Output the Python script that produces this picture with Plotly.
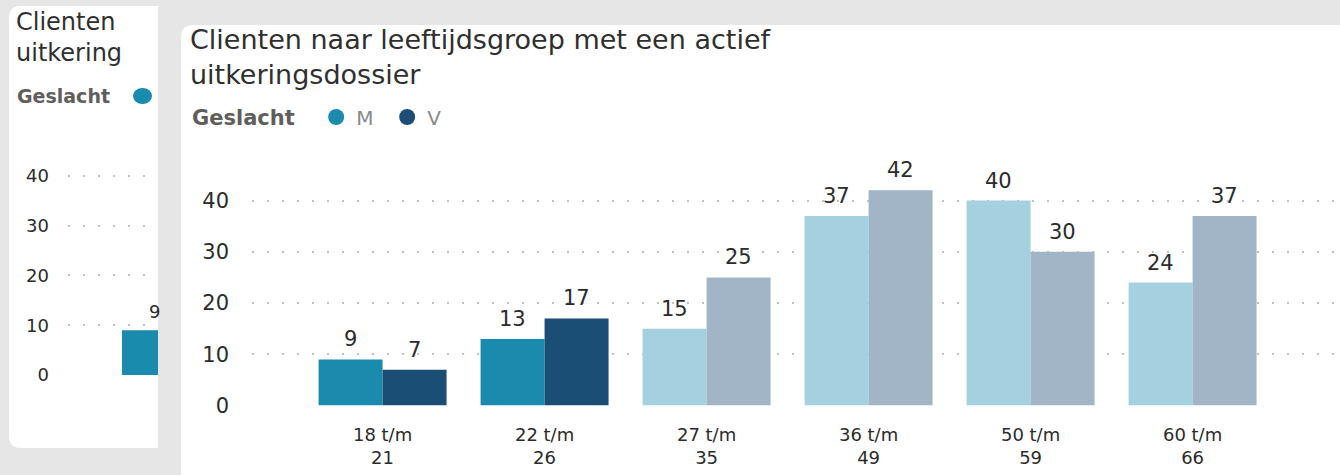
import plotly.graph_objects as go

# ---------------- data ----------------
age_groups = ["18 t/m 21", "22 t/m 26", "27 t/m 35", "36 t/m 49", "50 t/m 59", "60 t/m 66"]
tick_labels = ["18 t/m<br>21", "22 t/m<br>26", "27 t/m<br>35", "36 t/m<br>49", "50 t/m<br>59", "60 t/m<br>66"]
male = [9, 13, 15, 37, 40, 24]
female = [7, 17, 25, 42, 30, 37]
highlighted = [True, True, False, False, False, False]
y_ticks = [0, 10, 20, 30, 40]
series_names = ["M", "V"]

# ---------------- style ----------------
W, H = 1340, 475
FONT = "DejaVu Sans"
BG = "#e6e6e6"
M_COLOR, V_COLOR = "#1a8aad", "#1b4e74"
M_FADED, V_FADED = "#a4d0df", "#a2b5c7"
TXT = "#2b2b2b"
GRID = "#c2c2c2"
BARGAP = 0.21
HALF = (1 - BARGAP) / 4  # offset of each bar centre from the category centre


def px(x):
    return x / W


def py(y):
    return 1 - y / H


idx = list(range(len(age_groups)))
m_colors = [M_COLOR if h else M_FADED for h in highlighted]
v_colors = [V_COLOR if h else V_FADED for h in highlighted]

fig = go.Figure()

# main chart (x / y) and the partially visible background chart (x2 / y2)
for xa, ya in (("x", "y"), ("x2", "y2")):
    fig.add_trace(go.Bar(x=idx, y=male, name="M", marker=dict(color=m_colors, line=dict(width=0)),
                         customdata=age_groups, hovertemplate="%{customdata}<br>M: %{y}<extra></extra>",
                         showlegend=False, xaxis=xa, yaxis=ya))
    fig.add_trace(go.Bar(x=idx, y=female, name="V", marker=dict(color=v_colors, line=dict(width=0)),
                         customdata=age_groups, hovertemplate="%{customdata}<br>V: %{y}<extra></extra>",
                         showlegend=False, xaxis=xa, yaxis=ya))

# legend entries (circles)
for name, col in zip(series_names, [M_COLOR, V_COLOR]):
    fig.add_trace(go.Scatter(x=[None], y=[None], mode="markers", name=name,
                             marker=dict(symbol="circle", size=16, color=col),
                             showlegend=True, xaxis="x", yaxis="y"))

# data labels
annotations = []
for i, (m, v) in enumerate(zip(male, female)):
    for val, off in ((m, -HALF), (v, HALF)):
        annotations.append(dict(x=i + off, y=val, xref="x", yref="y", text=str(val), showarrow=False,
                                xanchor="center", yanchor="bottom", yshift=6,
                                font=dict(family=FONT, size=21, color=TXT)))
annotations.append(dict(x=0 - HALF, y=male[0], xref="x2", yref="y2", text=str(male[0]), showarrow=False,
                        xanchor="center", yanchor="bottom", yshift=6,
                        font=dict(family=FONT, size=18, color=TXT)))

# titles and background-card legend label
annotations += [
    dict(x=px(188), y=py(22), xref="paper", yref="paper", xanchor="left", yanchor="top", align="left",
         text="Clienten naar leeftijdsgroep met een actief<br>uitkeringsdossier", showarrow=False,
         font=dict(family=FONT, size=27, color="#2f2f2f")),
    dict(x=px(14), y=py(6), xref="paper", yref="paper", xanchor="left", yanchor="top", align="left",
         text="Clienten<br>uitkering", showarrow=False, font=dict(family=FONT, size=24, color="#2f2f2f")),
    dict(x=px(15), y=py(96), xref="paper", yref="paper", xanchor="left", yanchor="middle",
         text="<b>Geslacht</b>", showarrow=False, font=dict(family=FONT, size=19, color="#605e5c")),
]


def rounded_path(x0, y0, x1, y1, r):
    # pixel coordinates -> paper path with rounded left corners
    X, Y = px, py
    rx, ry = r / W, r / H
    p = f"M {X(x0)+rx},{Y(y0)} L {X(x1)},{Y(y0)} L {X(x1)},{Y(y1)} L {X(x0)+rx},{Y(y1)} "
    p += f"Q {X(x0)},{Y(y1)} {X(x0)},{Y(y1)+ry} L {X(x0)},{Y(y0)-ry} Q {X(x0)},{Y(y0)} {X(x0)+rx},{Y(y0)} Z"
    return p


shapes = [
    dict(type="path", xref="paper", yref="paper", path=rounded_path(9, 6, 158, 448, 12),
         fillcolor="white", line=dict(width=0), layer="below"),
    dict(type="path", xref="paper", yref="paper", path=rounded_path(181, 25, 1345, 490, 12),
         fillcolor="white", line=dict(width=0), layer="below"),
    dict(type="circle", xref="paper", yref="paper", x0=px(133), x1=px(152), y0=py(88), y1=py(104),
         fillcolor=M_COLOR, line=dict(width=0), layer="below"),
]

fig.update_layout(
    width=W, height=H, autosize=False,
    margin=dict(l=0, r=0, t=0, b=0, autoexpand=False),
    paper_bgcolor=BG,
    plot_bgcolor="rgba(0,0,0,0)",
    barmode="group", bargap=BARGAP, bargroupgap=0,
    font=dict(family=FONT, color=TXT),
    showlegend=True,
    legend=dict(orientation="h", x=px(190), y=py(117), xanchor="left", yanchor="middle",
                bgcolor="rgba(0,0,0,0)", itemsizing="trace", itemclick=False,
                entrywidth=26, entrywidthmode="pixels",
                font=dict(family=FONT, size=20, color="#8a8a8a"),
                title=dict(text="<b>Geslacht</b>&nbsp;&nbsp;", side="left",
                           font=dict(family=FONT, size=21, color="#605e5c"))),
    xaxis=dict(domain=[px(252), px(1340)], range=[-0.806, 5.91], tickvals=idx, ticktext=tick_labels,
               showgrid=False, zeroline=False, showline=False, ticks="", ticklabelstandoff=16,
               automargin=False,
               tickfont=dict(family=FONT, size=18, color=TXT), anchor="y", fixedrange=True),
    yaxis=dict(domain=[py(405.5), py(175)], range=[0, 45], tickvals=y_ticks,
               showgrid=True, gridcolor=GRID, gridwidth=2, griddash="2px,13px",
               zeroline=False, showline=False, ticks="", ticklabelstandoff=22, automargin=False,
               tickfont=dict(family=FONT, size=21, color=TXT), anchor="x", fixedrange=True),
    xaxis2=dict(domain=[px(68), px(158)], range=[-0.728, -0.173], tickvals=idx, ticktext=tick_labels,
                showgrid=False, zeroline=False, showline=False, ticks="", showticklabels=False,
                automargin=False, anchor="y2", fixedrange=True),
    yaxis2=dict(domain=[py(375), py(151)], range=[0, 45], tickvals=y_ticks,
                showgrid=True, gridcolor=GRID, gridwidth=2, griddash="2px,13px",
                zeroline=False, showline=False, ticks="", ticklabelstandoff=18, automargin=False,
                tickfont=dict(family=FONT, size=18, color=TXT), anchor="x2", fixedrange=True),
    annotations=annotations,
    shapes=shapes,
)

fig.write_html(
    "out.html",
    config={"responsive": False, "displayModeBar": False},
    post_script="document.body.style.margin='0';document.body.style.background='" + BG + "';",
)
